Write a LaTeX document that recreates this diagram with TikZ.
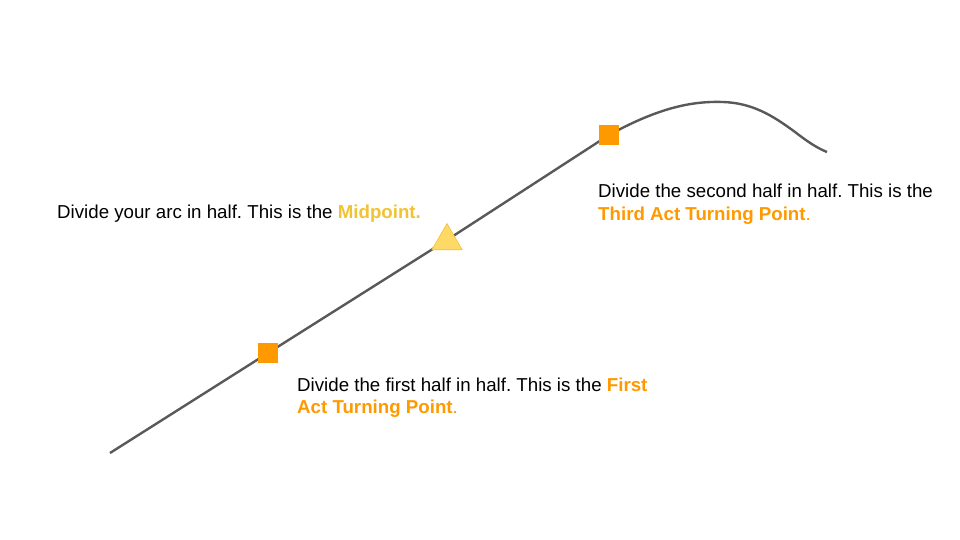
\documentclass[tikz,border=0pt]{standalone}
\usepackage{fontspec}
\setmainfont{Liberation Sans}
\usetikzlibrary{shapes.geometric}
\definecolor{arcgray}{HTML}{595959}
\definecolor{beatorange}{HTML}{FF9900}
\definecolor{midyellow}{HTML}{F1C232}
\definecolor{trifill}{HTML}{FFD966}
\tikzset{beat/.style={rectangle, fill=beatorange, minimum size=20pt, inner sep=0pt},
  midbeat/.style={regular polygon, regular polygon sides=3, fill=trifill, draw=midyellow,
    line width=0.6pt, minimum size=35pt, inner sep=0pt},
  caption/.style={anchor=north west, inner sep=0pt, align=left,
    font=\fontsize{18.7}{22.5}\selectfont\frenchspacing}}
\begin{document}
\begin{tikzpicture}[x=1pt, y=-1pt]
  \useasboundingbox (0,0) rectangle (960,540);
  % points on the story arc
  \coordinate (start) at (110,453);
  \coordinate (act1) at (268,353);
  \coordinate (mid) at (447,240);
  \coordinate (act3) at (609,135);
  \coordinate (top) at (723,102);
  \coordinate (end) at (827,152);
  \draw[arcgray, line width=2.4pt] (start) -- (act1) -- (mid) -- (act3)
    .. controls (660,107) and (693,101) .. (top)
    .. controls (752,103) and (772,115) .. (795,132)
    .. controls (808,142) and (817,148) .. (end);
  % markers
  \node[beat] (act1box) at (act1) {};
  \node[beat] (act3box) at (act3) {};
  \node[midbeat] (midtri) at (447,241) {};
  % captions
  \node[caption] (midtext) at (57,204.5)
    {Divide your arc in half. This is the \textcolor{midyellow}{\textbf{Midpoint.}}};
  \node[caption] (act1text) at (297,377.5)
    {Divide the first half in half. This is the \textcolor{beatorange}{\textbf{First}}\\
     \textcolor{beatorange}{\textbf{Act Turning Point}.}};
  \node[caption] (act3text) at (598,184)
    {Divide the second half in half. This is the\\
     \textcolor{beatorange}{\textbf{Third Act Turning Point}.}};
\end{tikzpicture}
\end{document}
